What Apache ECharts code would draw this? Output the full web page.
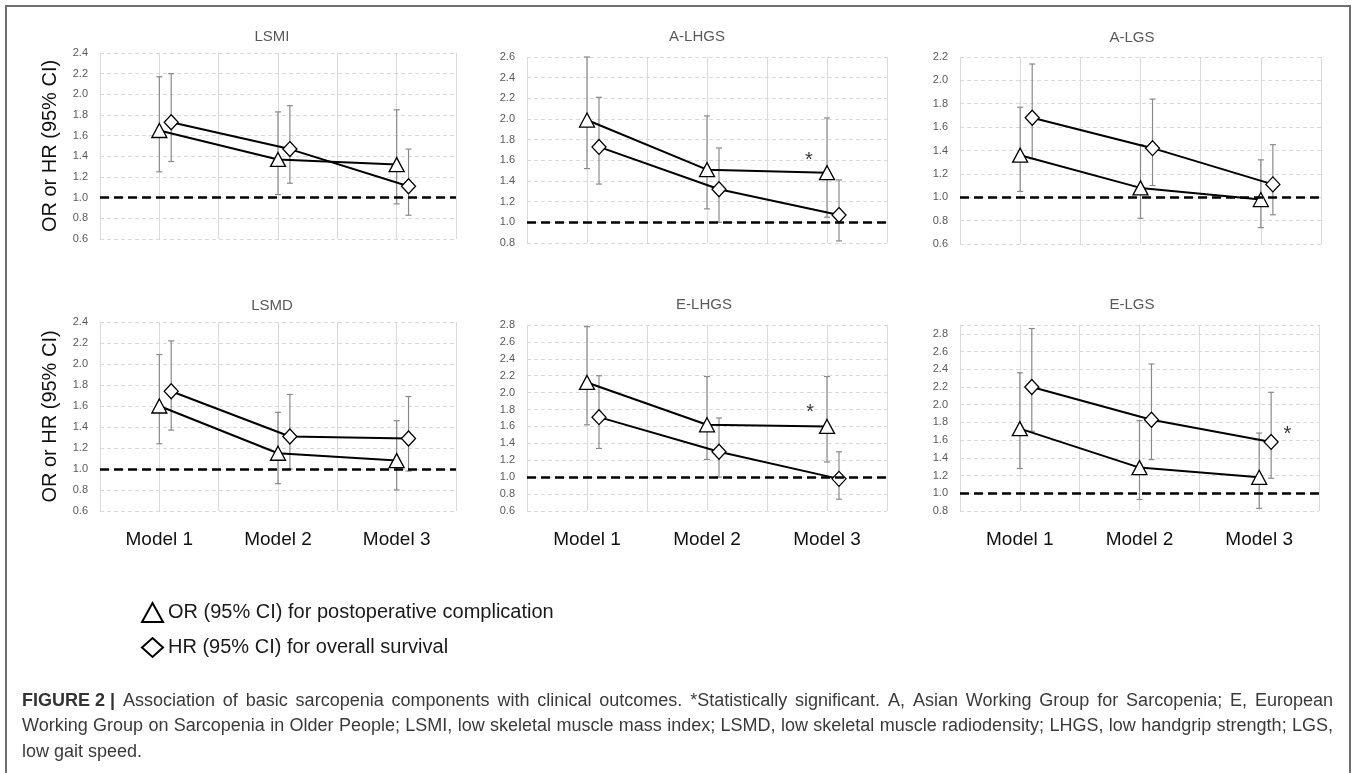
<!DOCTYPE html>
<html>
<head>
<meta charset="utf-8">
<script src="https://cdn.jsdelivr.net/npm/echarts@6/dist/echarts.min.js"></script>
<style>
html,body{margin:0;padding:0;background:#fff;}
#chart{width:1357px;height:773px;}
</style>
</head>
<body>
<div id="chart"></div>
<script>
// ---------- data ----------
const categories = ['Model 1', 'Model 2', 'Model 3'];
const panelTitles = ['LSMI', 'A-LHGS', 'A-LGS', 'LSMD', 'E-LHGS', 'E-LGS'];
const yMin = [0.6, 0.8, 0.6, 0.6, 0.6, 0.8];
const yMax = [2.4, 2.6, 2.2, 2.4, 2.8, 2.9];
const yStep = 0.2;
const refValue = 1.0;
const orName = 'OR (95% CI) for postoperative complication';
const hrName = 'HR (95% CI) for overall survival';
const yTitle = 'OR or HR (95% CI)';

// [estimate, lower CI, upper CI] per model
const lsmiOR  = [[1.65, 1.25, 2.17], [1.37, 1.03, 1.83], [1.32, 0.94, 1.85]];
const lsmiHR  = [[1.73, 1.35, 2.20], [1.47, 1.14, 1.89], [1.11, 0.83, 1.47]];
const alhgsOR = [[1.99, 1.52, 2.60], [1.51, 1.13, 2.03], [1.48, 1.05, 2.01]];
const alhgsHR = [[1.73, 1.37, 2.21], [1.32, 1.00, 1.72], [1.07, 0.82, 1.41]];
const algsOR  = [[1.36, 1.05, 1.77], [1.08, 0.82, 1.45], [0.98, 0.74, 1.32]];
const algsHR  = [[1.68, 1.33, 2.14], [1.42, 1.10, 1.84], [1.11, 0.85, 1.45]];
const lsmdOR  = [[1.60, 1.24, 2.09], [1.15, 0.86, 1.54], [1.08, 0.80, 1.46]];
const lsmdHR  = [[1.74, 1.37, 2.22], [1.31, 1.00, 1.71], [1.29, 0.98, 1.69]];
const elhgsOR = [[2.12, 1.62, 2.78], [1.62, 1.21, 2.19], [1.60, 1.18, 2.19]];
const elhgsHR = [[1.71, 1.34, 2.20], [1.30, 1.00, 1.70], [0.98, 0.74, 1.30]];
const elgsOR  = [[1.73, 1.28, 2.36], [1.29, 0.93, 1.82], [1.18, 0.83, 1.68]];
const elgsHR  = [[2.20, 1.70, 2.86], [1.83, 1.38, 2.46], [1.58, 1.17, 2.14]];

// significance marks: panel index, x position on 0..6 axis, y value
const sigPanels = [1, 4, 5];
const sigX = [4.7, 4.72, 5.47];
const sigY = [1.60, 1.76, 1.66];

const captionLabel = 'FIGURE 2 |';
const captionLines = [
  'Association of basic sarcopenia components with clinical outcomes. *Statistically significant. A, Asian Working Group for Sarcopenia; E, European',
  'Working Group on Sarcopenia in Older People; LSMI, low skeletal muscle mass index; LSMD, low skeletal muscle radiodensity; LHGS, low handgrip strength; LGS,',
  'low gait speed.'
];

// ---------- layout ----------
const orData = [lsmiOR, alhgsOR, algsOR, lsmdOR, elhgsOR, elgsOR];
const hrData = [lsmiHR, alhgsHR, algsHR, lsmdHR, elhgsHR, elgsHR];
const grids = [
  {left: 100, top: 53,  width: 356, height: 186},
  {left: 527, top: 57,  width: 360, height: 186},
  {left: 960, top: 57,  width: 361, height: 187},
  {left: 100, top: 322, width: 356, height: 189},
  {left: 527, top: 325, width: 360, height: 186},
  {left: 960, top: 325, width: 359, height: 186}
];
const titleX = [267, 692, 1127, 267, 699, 1127];
const titleY = [24, 24, 25, 293, 292, 292];
const hrOffset = 0.2;
const FONT = '"Liberation Sans", Arial, sans-serif';
const CAP_SIZE = 18;
const CAP_LEFT = 22, CAP_RIGHT = 1333;

function catX(i) { return 2 * i + 1; }

function renderErr(params, api) {
  const x = api.value(0);
  const a = api.coord([x, api.value(1)]);
  const b = api.coord([x, api.value(2)]);
  const s = {stroke: '#8a8a8a', lineWidth: 1.2};
  return {type: 'group', children: [
    {type: 'line', shape: {x1: a[0], y1: a[1], x2: b[0], y2: b[1]}, style: s},
    {type: 'line', shape: {x1: a[0] - 3, y1: a[1], x2: a[0] + 3, y2: a[1]}, style: s},
    {type: 'line', shape: {x1: b[0] - 3, y1: b[1], x2: b[0] + 3, y2: b[1]}, style: s}
  ]};
}

// justified caption (first two lines), built as rich text with widened spaces
const mctx = document.createElement('canvas').getContext('2d');
function measure(t, bold) {
  mctx.font = (bold ? 'bold ' : '') + CAP_SIZE + 'px ' + FONT;
  return mctx.measureText(t).width;
}
const capRich = {
  b: {fontWeight: 'bold', fontSize: CAP_SIZE, fill: '#333', fontFamily: FONT}
};
const capParts = [];
captionLines.forEach((line, li) => {
  const words = line.split(' ');
  const avail = CAP_RIGHT - CAP_LEFT;
  let used = words.reduce((s, w) => s + measure(w, false), 0);
  let gaps = words.length - 1;
  let prefix = '';
  if (li === 0) { used += measure(captionLabel, true); gaps += 1; }
  const justify = li < captionLines.length - 1;
  const gapW = justify ? (avail - used) / gaps : measure(' ', false);
  const gName = 'g' + li;
  capRich[gName] = {width: gapW, fontSize: CAP_SIZE, fontFamily: FONT};
  const sep = '{' + gName + '| }';
  if (li === 0) prefix = '{b|' + captionLabel + '}' + sep;
  capParts.push(prefix + (justify ? words.join(sep) : line));
});

const xAxes = [], yAxes = [], series = [], titles = [];
grids.forEach((g, p) => {
  const bottomRow = p >= 3;
  xAxes.push({
    type: 'value', gridIndex: p, min: 0, max: 2 * categories.length, interval: 1,
    axisLine: {show: false}, axisTick: {show: false},
    splitLine: {show: true, lineStyle: {color: '#d9d9d9', width: 1}},
    axisLabel: {
      show: bottomRow, margin: 19, fontSize: 19, color: '#111', fontFamily: FONT,
      formatter: v => (v % 2 === 1 ? categories[(v - 1) / 2] : '')
    }
  });
  yAxes.push({
    type: 'value', gridIndex: p, min: yMin[p], max: yMax[p], interval: yStep,
    axisLine: {show: false}, axisTick: {show: false},
    splitLine: {show: true, lineStyle: {color: '#d9d9d9', type: [4, 3], width: 1}},
    axisLabel: {
      margin: 12, fontSize: 11, color: '#595959', fontFamily: FONT,
      formatter: v => (Math.abs(Math.round((v - yMin[p]) / yStep) * yStep - (v - yMin[p])) < 1e-6 ? v.toFixed(1) : '')
    }
  });
  titles.push({
    text: panelTitles[p], left: titleX[p], top: titleY[p], textAlign: 'center',
    textStyle: {fontSize: 15, fontWeight: 'normal', color: '#595959', fontFamily: FONT}
  });
  const orPts = orData[p].map((d, i) => [catX(i), d[0]]);
  const hrPts = hrData[p].map((d, i) => [catX(i) + hrOffset, d[0]]);
  const orErr = orData[p].map((d, i) => [catX(i), d[1], d[2]]);
  const hrErr = hrData[p].map((d, i) => [catX(i) + hrOffset, d[1], d[2]]);
  [orErr, hrErr].forEach(e => series.push({
    type: 'custom', xAxisIndex: p, yAxisIndex: p, data: e, renderItem: renderErr,
    encode: {x: 0, y: [1, 2]}, z: 1, silent: true
  }));
  series.push({
    name: orName, type: 'line', xAxisIndex: p, yAxisIndex: p, data: orPts, z: 3,
    symbol: 'triangle', symbolSize: [15, 14], showAllSymbol: true,
    lineStyle: {color: '#000', width: 2},
    itemStyle: {color: '#fff', borderColor: '#000', borderWidth: 1.3},
    markLine: {
      silent: true, symbol: 'none', label: {show: false},
      lineStyle: {color: '#000', type: [9, 5], width: 2.5},
      data: [{yAxis: refValue}]
    }
  });
  series.push({
    name: hrName, type: 'line', xAxisIndex: p, yAxisIndex: p, data: hrPts, z: 4,
    symbol: 'diamond', symbolSize: [14, 15], showAllSymbol: true,
    lineStyle: {color: '#000', width: 2},
    itemStyle: {color: '#fff', borderColor: '#000', borderWidth: 1.3}
  });
});
sigPanels.forEach((p, k) => {
  series.push({
    type: 'scatter', xAxisIndex: p, yAxisIndex: p, data: [[sigX[k], sigY[k]]], z: 5,
    symbol: 'circle', symbolSize: 2, itemStyle: {color: 'transparent'}, silent: true,
    label: {show: true, position: 'inside', formatter: '*', fontSize: 20, color: '#000', fontFamily: FONT}
  });
});

const graphics = [
  {type: 'rect', shape: {x: 6, y: 6, width: 1344, height: 790}, style: {fill: 'none', stroke: '#6e6e6e', lineWidth: 2}, silent: true},
  {type: 'text', x: 50, y: (grids[0].top + grids[0].height / 2), rotation: Math.PI / 2,
   style: {text: yTitle, fontSize: 20, fill: '#111', font: '20px ' + FONT, textAlign: 'center', textVerticalAlign: 'middle'}},
  {type: 'text', x: 50, y: (grids[3].top + grids[3].height / 2), rotation: Math.PI / 2,
   style: {text: yTitle, fontSize: 20, fill: '#111', font: '20px ' + FONT, textAlign: 'center', textVerticalAlign: 'middle'}},
  {type: 'text', left: CAP_LEFT, top: 688,
   style: {
     text: capParts.join('\n'),
     rich: capRich,
     fontSize: CAP_SIZE, fill: '#3a3a3a', fontFamily: FONT, lineHeight: 25.5
   }}
];

const chart = echarts.init(document.getElementById('chart'), null, {renderer: 'canvas'});
chart.setOption({
  backgroundColor: '#fff',
  animation: false,
  title: titles,
  grid: grids,
  xAxis: xAxes,
  yAxis: yAxes,
  legend: {
    orient: 'vertical', left: 136, top: 597, itemGap: 14, itemWidth: 21, itemHeight: 19,
    selectedMode: false,
    data: [{name: orName, icon: 'triangle'}, {name: hrName, icon: 'diamond'}],
    itemStyle: {color: '#fff', borderColor: '#000', borderWidth: 2},
    textStyle: {fontSize: 20, color: '#1a1a1a', fontFamily: FONT}
  },
  series: series,
  graphic: graphics
});
</script>
</body>
</html>
